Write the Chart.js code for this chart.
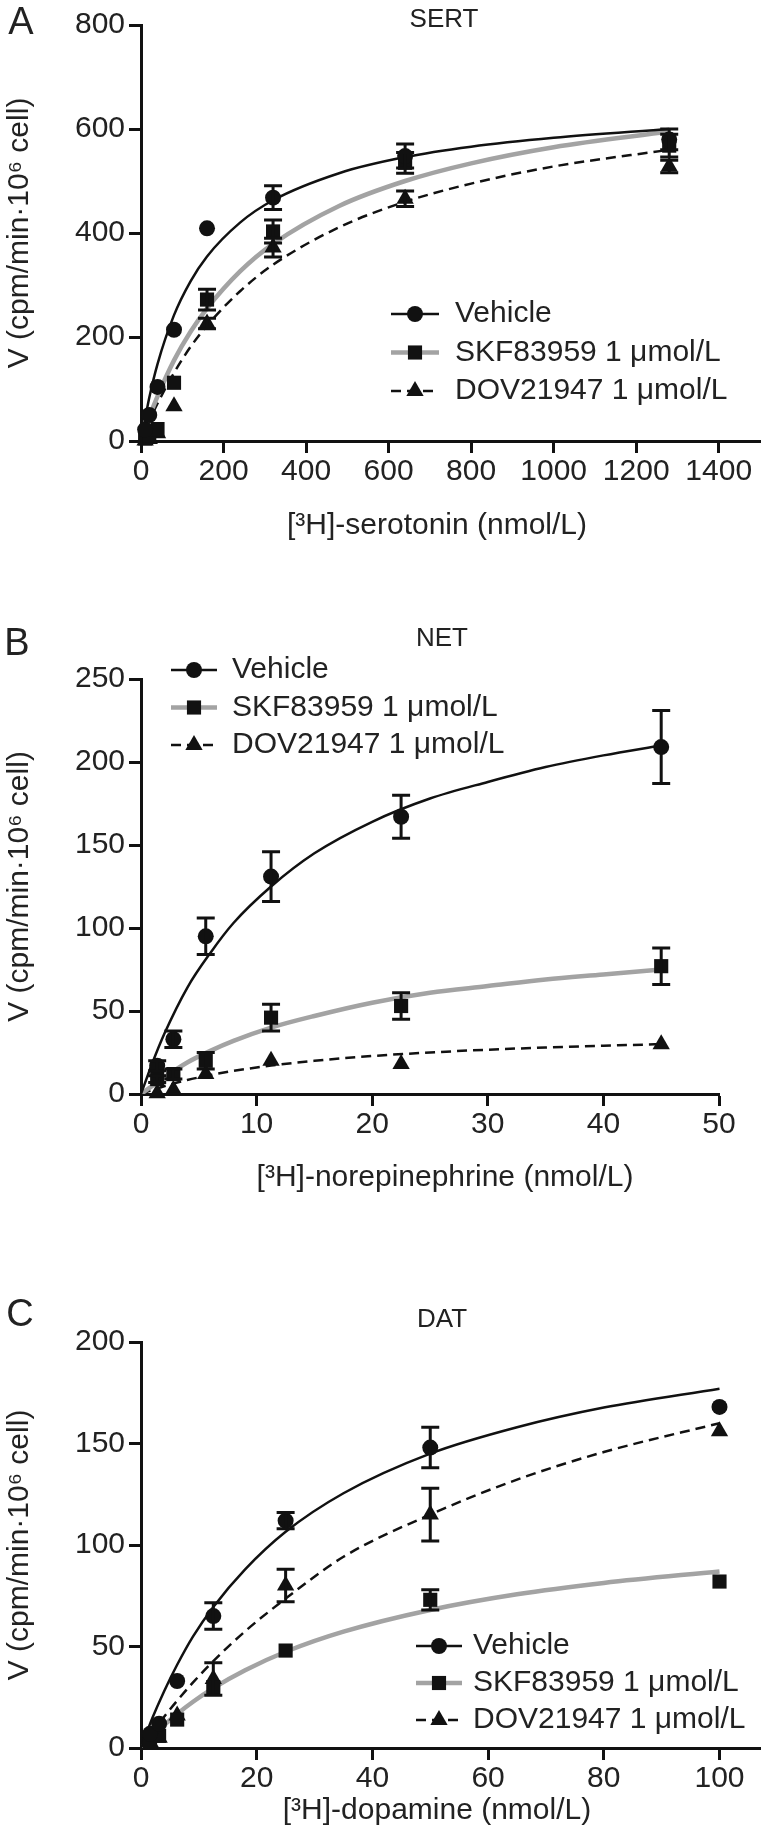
<!DOCTYPE html>
<html>
<head>
<meta charset="utf-8">
<title>SERT / NET / DAT uptake kinetics</title>
<script src="https://cdn.jsdelivr.net/npm/chart.js@4.4.1/dist/chart.umd.min.js"></script>
<style>
  html, body { margin: 0; padding: 0; background: #fff; }
  body { width: 773px; height: 1836px; position: relative; overflow: hidden; }
  .panel { position: absolute; left: 0; width: 773px; }
  .panel canvas { display: block; }
</style>
</head>
<body>
<div class="panel" style="top:0px"><canvas id="chartA" width="773" height="590"></canvas></div>
<div class="panel" style="top:590px"><canvas id="chartB" width="773" height="620"></canvas></div>
<div class="panel" style="top:1210px"><canvas id="chartC" width="773" height="626"></canvas></div>
<script>
// series names (same in all three panels)
const seriesNames = ["Vehicle", "SKF83959 1 μmol/L", "DOV21947 1 μmol/L"];
const yTitle = "V (cpm/min·10⁶ cell)";

// ---- A: SERT ----
const sertConc = [10, 20, 40, 80, 160, 320, 640, 1280];
const sertVehicle = [22, 50, 104, 214, 409, 468, 548, 580];
const sertVehicleErr = [0, 0, 0, 0, 0, 23, 23, 20];
const sertSkf = [5, 10, 23, 112, 272, 403, 535, 568];
const sertSkfErr = [0, 0, 0, 0, 20, 22, 20, 22];
const sertDov = [1, 4, 15, 67, 226, 372, 466, 528];
const sertDovErr = [0, 0, 0, 0, 10, 18, 15, 12];
const sertFitX = [0, 20, 40, 80, 120, 160, 240, 320, 480, 640, 800, 1000, 1280];
const sertFitVehicle = [0, 83, 148, 242, 307, 355, 420, 463, 515, 546, 566, 583, 600];
const sertFitSkf = [0, 46, 86, 155, 210, 255, 326, 379, 452, 500, 534, 565, 595];
const sertFitDov = [0, 38, 72, 131, 181, 222, 288, 339, 411, 460, 495, 528, 560];
const sertXTicks = [0, 200, 400, 600, 800, 1000, 1200, 1400];
const sertYTicks = [0, 200, 400, 600, 800];

// ---- B: NET ----
const netConc = [1.4, 2.8, 5.6, 11.25, 22.5, 45];
const netVehicle = [17, 33, 95, 131, 167, 209];
const netVehicleErr = [3, 5, 11, 15, 13, 22];
const netSkf = [9, 12, 20, 46, 53, 77];
const netSkfErr = [2, 3, 5, 8, 8, 11];
const netDov = [0.5, 2.5, 12, 20, 18, 30];
const netDovErr = [0, 0, 0, 0, 0, 0];
const netFitX = [0, 1, 2, 4, 6, 8, 11.25, 15, 20, 25, 30, 35, 40, 45];
const netFitVehicle = [0, 19, 36, 64, 85, 103, 125, 145, 164, 178, 188, 197, 204, 210];
const netFitSkf = [0, 5, 10, 19, 26, 32, 40, 47, 55, 61, 65, 69, 72, 75];
const netFitDov = [0, 2.5, 4.7, 8.4, 11.4, 13.9, 17.1, 20, 22.9, 25, 26.7, 28, 29.1, 30];
const netXTicks = [0, 10, 20, 30, 40, 50];
const netYTicks = [0, 50, 100, 150, 200, 250];

// ---- C: DAT ----
const datConc = [1.56, 3.125, 6.25, 12.5, 25, 50, 100];
const datVehicle = [7, 12, 33, 65, 112, 148, 168];
const datVehicleErr = [0, 0, 0, 6.5, 4, 10, 0];
const datSkf = [3, 6, 14, 30, 48, 73, 82];
const datSkfErr = [0, 0, 0, 0, 0, 5, 0];
const datDov = [3, 5, 16, 34, 80, 115, 156];
const datDovErr = [0, 0, 0, 8, 8, 13, 0];
const datFitX = [0, 2, 4, 6.25, 9, 12.5, 18, 25, 35, 50, 65, 80, 100];
const datFitVehicle = [0, 15, 28, 41, 55, 69.5, 88, 106.5, 125.5, 145, 158, 167.7, 177];
const datFitSkf = [0, 5.9, 11.3, 16.8, 22.8, 29.5, 38.3, 47.4, 57.3, 68, 75.7, 81.3, 87];
const datFitDov = [0, 7.9, 15.4, 23.3, 32.3, 42.8, 57.5, 73.6, 94.2, 115, 132.2, 145.8, 160];
const datXTicks = [0, 20, 40, 60, 80, 100];
const datYTicks = [0, 50, 100, 150, 200];

const FONT = "'Liberation Sans', Arial, sans-serif";
const INK = "#111";
const TEXT = "#222";

// error bars (mean +/- SEM) drawn through the y scale
const errorBars = {
  id: "errorBars",
  afterDatasetsDraw(chart) {
    const ctx = chart.ctx;
    const yScale = chart.scales.y;
    ctx.save();
    ctx.strokeStyle = INK;
    ctx.lineWidth = 3;
    chart.data.datasets.forEach((ds, i) => {
      if (!ds.errors) return;
      const meta = chart.getDatasetMeta(i);
      meta.data.forEach((pt, j) => {
        const err = ds.errors[j];
        if (!err) return;
        const v = ds.data[j].y;
        const top = yScale.getPixelForValue(v + err);
        const bot = yScale.getPixelForValue(v - err);
        ctx.beginPath();
        ctx.moveTo(pt.x, top);
        ctx.lineTo(pt.x, bot);
        ctx.moveTo(pt.x - 9, top);
        ctx.lineTo(pt.x + 9, top);
        ctx.moveTo(pt.x - 9, bot);
        ctx.lineTo(pt.x + 9, bot);
        ctx.stroke();
      });
    });
    ctx.restore();
  }
};

// legend with line sample + marker, like the Prism legend
const sampleLegend = {
  id: "sampleLegend",
  afterDraw(chart, args, opts) {
    const ctx = chart.ctx;
    const n = seriesNames.length;
    ctx.save();
    for (let i = 0; i < n; i++) {
      const pts = chart.data.datasets[i];
      const fit = chart.data.datasets[i + n];
      const y = opts.top + i * opts.rowGap;
      ctx.save();
      ctx.strokeStyle = fit.borderColor;
      ctx.lineWidth = fit.borderWidth;
      ctx.setLineDash(fit.borderDash || []);
      ctx.beginPath();
      ctx.moveTo(opts.left, y);
      ctx.lineTo(opts.left + opts.width, y);
      ctx.stroke();
      ctx.restore();
      ctx.fillStyle = INK;
      ctx.strokeStyle = INK;
      Chart.helpers.drawPoint(ctx, {
        pointStyle: pts.pointStyle, radius: pts.pointRadius, borderWidth: 0, rotation: 0
      }, opts.left + opts.width / 2, y);
      ctx.fillStyle = TEXT;
      ctx.font = "30px " + FONT;
      ctx.textAlign = "left";
      ctx.textBaseline = "middle";
      ctx.fillText(seriesNames[i], opts.textX, y);
    }
    ctx.restore();
  }
};

// panel letter, transporter name and x-axis title
const panelText = {
  id: "panelText",
  afterDraw(chart, args, opts) {
    const ctx = chart.ctx;
    ctx.save();
    ctx.fillStyle = TEXT;
    ctx.textAlign = "center";
    ctx.textBaseline = "middle";
    ctx.font = "38px " + FONT;
    ctx.fillText(opts.letter, opts.letterX, opts.letterY);
    ctx.font = "26px " + FONT;
    ctx.fillText(opts.title, opts.titleX, opts.titleY);
    ctx.font = "30px " + FONT;
    ctx.fillText(opts.xTitle, opts.xTitleX, opts.xTitleY);
    ctx.restore();
  }
};

function makePanel(id, p) {
  const canvas = document.getElementById(id);
  const H = canvas.height;
  const styles = ["circle", "rect", "triangle"];
  const radii = [8, 10, 10];

  const pointSets = [p.vehicle, p.skf, p.dov].map((vals, i) => ({
    label: seriesNames[i],
    data: p.conc.map((c, j) => ({ x: c, y: vals[j] })),
    errors: p.errs[i],
    pointStyle: styles[i],
    pointRadius: radii[i],
    pointBackgroundColor: INK,
    pointBorderWidth: 0,
    showLine: false,
    clip: false
  }));

  const lineStyles = [
    { borderColor: "#111", borderWidth: 2.5, borderDash: [] },
    { borderColor: "#a3a3a3", borderWidth: 4.5, borderDash: [] },
    { borderColor: "#111", borderWidth: 2.5, borderDash: [10, 6] }
  ];
  const fitSets = [p.fitVehicle, p.fitSkf, p.fitDov].map((vals, i) => Object.assign({
    label: seriesNames[i] + " (fit)",
    data: p.fitX.map((c, j) => ({ x: c, y: vals[j] })),
    showLine: true,
    pointRadius: 0,
    cubicInterpolationMode: "monotone"
  }, lineStyles[i]));

  const tickFont = { family: FONT, size: 30 };

  return new Chart(canvas.getContext("2d"), {
    type: "scatter",
    data: { datasets: pointSets.concat(fitSets) },
    options: {
      responsive: false,
      animation: false,
      events: [],
      layout: { padding: { top: p.plotTop, right: 773 - p.plotRight, bottom: 0, left: 0 } },
      scales: {
        x: {
          type: "linear",
          min: 0,
          max: p.xMax,
          afterBuildTicks: (s) => { s.ticks = p.xTicks.map((v) => ({ value: v })); },
          afterFit: (s) => { s.height = H - p.plotBottom; },
          grid: { drawOnChartArea: false, tickLength: 12, tickWidth: 3, tickColor: INK },
          border: { color: INK, width: 3 },
          ticks: { font: tickFont, color: TEXT, padding: 1, maxRotation: 0, autoSkip: false, callback: (v) => String(v) },
          title: { display: false }
        },
        y: {
          type: "linear",
          min: 0,
          max: p.yMax,
          afterBuildTicks: (s) => { s.ticks = p.yTicks.map((v) => ({ value: v })); },
          afterFit: (s) => { s.width = 141; },
          grid: { drawOnChartArea: false, tickLength: 12, tickWidth: 3, tickColor: INK },
          border: { color: INK, width: 3 },
          ticks: { font: tickFont, color: TEXT, padding: 4, autoSkip: false, callback: (v) => String(v) },
          title: { display: true, text: yTitle, font: { family: FONT, size: 30 }, color: TEXT, padding: { top: 2, bottom: 0 } }
        }
      },
      plugins: {
        legend: { display: false },
        tooltip: { enabled: false },
        sampleLegend: p.legend,
        panelText: p.label
      }
    },
    plugins: [errorBars, sampleLegend, panelText]
  });
}

makePanel("chartA", {
  conc: sertConc, vehicle: sertVehicle, skf: sertSkf, dov: sertDov,
  errs: [sertVehicleErr, sertSkfErr, sertDovErr],
  fitX: sertFitX, fitVehicle: sertFitVehicle, fitSkf: sertFitSkf, fitDov: sertFitDov,
  xTicks: sertXTicks, yTicks: sertYTicks, xMax: 1500, yMax: 800,
  plotTop: 25, plotBottom: 441, plotRight: 760,
  legend: { left: 391, width: 48, top: 314, rowGap: 38.5, textX: 455 },
  label: { letter: "A", letterX: 21, letterY: 24, title: "SERT", titleX: 444, titleY: 20,
           xTitle: "[³H]-serotonin (nmol/L)", xTitleX: 437, xTitleY: 526 }
});

makePanel("chartB", {
  conc: netConc, vehicle: netVehicle, skf: netSkf, dov: netDov,
  errs: [netVehicleErr, netSkfErr, netDovErr],
  fitX: netFitX, fitVehicle: netFitVehicle, fitSkf: netFitSkf, fitDov: netFitDov,
  xTicks: netXTicks, yTicks: netYTicks, xMax: 50, yMax: 250,
  plotTop: 89, plotBottom: 504, plotRight: 719,
  legend: { left: 171, width: 46, top: 80, rowGap: 37.5, textX: 232 },
  label: { letter: "B", letterX: 17, letterY: 55, title: "NET", titleX: 442, titleY: 49,
           xTitle: "[³H]-norepinephrine (nmol/L)", xTitleX: 445, xTitleY: 588 }
});

makePanel("chartC", {
  conc: datConc, vehicle: datVehicle, skf: datSkf, dov: datDov,
  errs: [datVehicleErr, datSkfErr, datDovErr],
  fitX: datFitX, fitVehicle: datFitVehicle, fitSkf: datFitSkf, fitDov: datFitDov,
  xTicks: datXTicks, yTicks: datYTicks, xMax: 107, yMax: 200,
  plotTop: 132, plotBottom: 538, plotRight: 760,
  legend: { left: 416, width: 46, top: 436, rowGap: 37, textX: 473 },
  label: { letter: "C", letterX: 20, letterY: 106, title: "DAT", titleX: 442, titleY: 110,
           xTitle: "[³H]-dopamine (nmol/L)", xTitleX: 437, xTitleY: 601 }
});
</script>
</body>
</html>
